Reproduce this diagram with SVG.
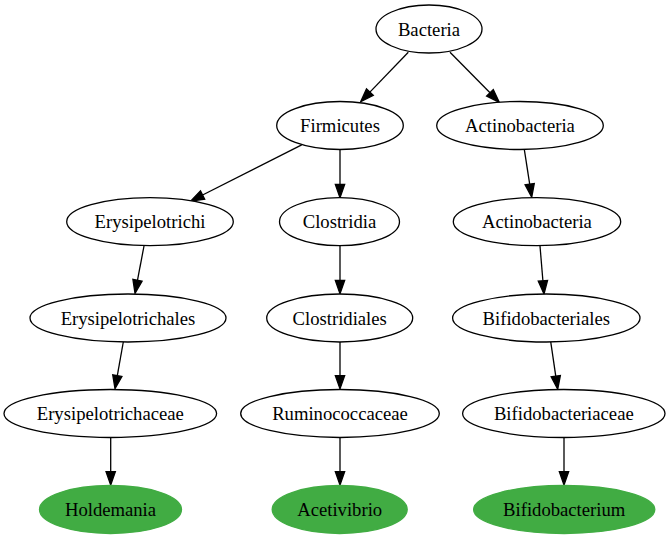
<svg xmlns="http://www.w3.org/2000/svg" width="669" height="539" viewBox="0 0 669 539" font-family="'Liberation Serif', 'Times New Roman', serif">
<style>
.n ellipse{fill:#ffffff;stroke:#000000;stroke-width:1.3}
.g ellipse{fill:#41ac43;stroke:#41ac43;stroke-width:1.3}
text{font-family:'Liberation Serif','Times New Roman',serif;font-size:18.67px;text-anchor:middle;fill:#000000}
#edges line{stroke:#000000;stroke-width:1.3}
#edges polygon{fill:#000000;stroke:#000000;stroke-width:1.3}
</style>
<rect width="669" height="539" fill="#ffffff"/>
<g id="edges">
<line x1="408.3" y1="52.3" x2="369.9" y2="92.1"/><polygon points="360.7,101.7 373.3,95.3 366.5,88.9"/>
<line x1="450" y1="52.3" x2="490" y2="92.8"/><polygon points="499.3,102.3 486.6,96.1 493.3,89.6"/>
<line x1="301.7" y1="144.8" x2="202.6" y2="195"/><polygon points="190.7,201 204.7,199.2 200.5,190.8"/>
<line x1="340" y1="149.5" x2="340" y2="184.4"/><polygon points="340,197.7 344.67,184.4 335.33,184.4"/>
<line x1="524.3" y1="149.3" x2="529.7" y2="184.2"/><polygon points="531.7,197.3 525.06,184.87 534.28,183.45"/>
<line x1="144" y1="246" x2="137.5" y2="280.2"/><polygon points="135,293.3 142.08,281.11 132.9,279.37"/>
<line x1="340" y1="246" x2="340" y2="280.4"/><polygon points="340,293.7 344.67,280.4 335.33,280.4"/>
<line x1="540" y1="246" x2="542.9" y2="280.75"/><polygon points="544,294 538.25,281.14 547.55,280.36"/>
<line x1="123.3" y1="342" x2="117.3" y2="375.6"/><polygon points="115,388.7 121.93,376.42 112.73,374.78"/>
<line x1="340" y1="342" x2="340" y2="375.6"/><polygon points="340,388.9 344.67,375.6 335.33,375.6"/>
<line x1="550.7" y1="341.7" x2="555.76" y2="376.14"/><polygon points="557.7,389.3 551.14,376.82 560.38,375.46"/>
<line x1="110.7" y1="437.5" x2="110.7" y2="471.7"/><polygon points="110.7,485 115.37,471.7 106.03,471.7"/>
<line x1="340" y1="437.5" x2="340" y2="471.7"/><polygon points="340,485 344.67,471.7 335.33,471.7"/>
<line x1="564" y1="437.5" x2="564" y2="471.7"/><polygon points="564,485 568.67,471.7 559.33,471.7"/>
</g>
<g id="bacteria" class="n"><ellipse cx="429" cy="29" rx="53" ry="24"/><text x="429" y="35.5">Bacteria</text></g>
<g id="firmicutes" class="n"><ellipse cx="340" cy="125.5" rx="63.3" ry="24"/><text x="340" y="132">Firmicutes</text></g>
<g id="actinobacteria1" class="n"><ellipse cx="520" cy="125.5" rx="83.3" ry="24"/><text x="520" y="132">Actinobacteria</text></g>
<g id="erysipelotrichi" class="n"><ellipse cx="150" cy="221.7" rx="83.3" ry="24"/><text x="150" y="228.2">Erysipelotrichi</text></g>
<g id="clostridia" class="n"><ellipse cx="339.5" cy="221.7" rx="60" ry="24"/><text x="339.5" y="228.2">Clostridia</text></g>
<g id="actinobacteria2" class="n"><ellipse cx="537" cy="221.7" rx="83.7" ry="24"/><text x="537" y="228.2">Actinobacteria</text></g>
<g id="erysipelotrichales" class="n"><ellipse cx="128" cy="318" rx="98" ry="24"/><text x="128" y="324.5">Erysipelotrichales</text></g>
<g id="clostridiales" class="n"><ellipse cx="339.7" cy="318" rx="73" ry="24"/><text x="339.7" y="324.5">Clostridiales</text></g>
<g id="bifidobacteriales" class="n"><ellipse cx="546.3" cy="318" rx="93.7" ry="24"/><text x="546.3" y="324.5">Bifidobacteriales</text></g>
<g id="erysipelotrichaceae" class="n"><ellipse cx="110.3" cy="413.5" rx="106.3" ry="24"/><text x="110.3" y="420">Erysipelotrichaceae</text></g>
<g id="ruminococcaceae" class="n"><ellipse cx="340" cy="413.5" rx="99.3" ry="24"/><text x="340" y="420">Ruminococcaceae</text></g>
<g id="bifidobacteriaceae" class="n"><ellipse cx="563.8" cy="413.5" rx="101.2" ry="24"/><text x="563.8" y="420">Bifidobacteriaceae</text></g>
<g id="holdemania" class="g"><ellipse cx="110.5" cy="509.5" rx="71" ry="24"/><text x="110.5" y="516">Holdemania</text></g>
<g id="acetivibrio" class="g"><ellipse cx="339.7" cy="509.5" rx="67.5" ry="24"/><text x="339.7" y="516">Acetivibrio</text></g>
<g id="bifidobacterium" class="g"><ellipse cx="564.2" cy="509.5" rx="90.6" ry="24"/><text x="564.2" y="516">Bifidobacterium</text></g>
</svg>
